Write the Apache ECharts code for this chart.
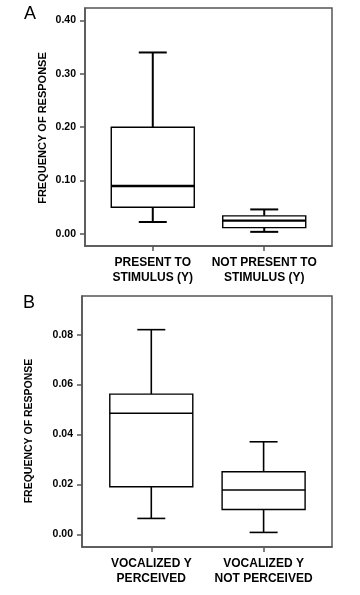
<!DOCTYPE html>
<html>
<head>
<meta charset="utf-8">
<script src="https://cdn.jsdelivr.net/npm/echarts@6/dist/echarts.min.js"></script>
<style>
html,body{margin:0;padding:0;background:#fff;}
#c{width:360px;height:595px;}
</style>
</head>
<body>
<div id="c"></div>
<script>
// ---- data ----
const categoriesA = ['PRESENT TO\nSTIMULUS (Y)', 'NOT PRESENT TO\nSTIMULUS (Y)'];
// [low whisker, Q1, median, Q3, high whisker]
const boxA1 = [0.0225, 0.05, 0.09, 0.20, 0.34];
const boxA2 = [0.004, 0.012, 0.025, 0.034, 0.046];
const ticksA = [0, 0.1, 0.2, 0.3, 0.4];

const categoriesB = ['VOCALIZED Y\nPERCEIVED', 'VOCALIZED Y\nNOT PERCEIVED'];
const boxB1 = [0.0064, 0.0191, 0.0485, 0.0562, 0.082];
const boxB2 = [0.0008, 0.0100, 0.0178, 0.0251, 0.0371];
const ticksB = [0, 0.02, 0.04, 0.06, 0.08];

const yNameA = 'FREQUENCY OF RESPONSE';
const yNameB = 'FREQUENCY OF RESPONSE';
const panelA = 'A';
const panelB = 'B';

// ---- chart ----
const FONT = "'Liberation Sans', Arial, sans-serif";
const chart = echarts.init(document.getElementById('c'), null, {renderer: 'canvas'});

function makeRender(boxW, capW, edgeW, whiskW, medW) {
  return function (params, api) {
    const x = api.value(0);
    const lo = api.coord([x, api.value(1)]);
    const q1 = api.coord([x, api.value(2)]);
    const md = api.coord([x, api.value(3)]);
    const q3 = api.coord([x, api.value(4)]);
    const hi = api.coord([x, api.value(5)]);
    const cx = lo[0];
    const s = {stroke: '#000', fill: null};
    return {
      type: 'group',
      children: [
        {type: 'line', shape: {x1: cx, y1: hi[1], x2: cx, y2: q3[1]}, style: Object.assign({}, s, {lineWidth: whiskW})},
        {type: 'line', shape: {x1: cx, y1: q1[1], x2: cx, y2: lo[1]}, style: Object.assign({}, s, {lineWidth: whiskW})},
        {type: 'line', shape: {x1: cx - capW, y1: hi[1], x2: cx + capW, y2: hi[1]}, style: Object.assign({}, s, {lineWidth: whiskW})},
        {type: 'line', shape: {x1: cx - capW, y1: lo[1], x2: cx + capW, y2: lo[1]}, style: Object.assign({}, s, {lineWidth: whiskW})},
        {type: 'rect', shape: {x: cx - boxW, y: q3[1], width: boxW * 2, height: q1[1] - q3[1]}, style: {stroke: '#000', fill: '#fff', lineWidth: edgeW}},
        {type: 'line', shape: {x1: cx - boxW, y1: md[1], x2: cx + boxW, y2: md[1]}, style: Object.assign({}, s, {lineWidth: medW})}
      ]
    };
  };
}

function rows(a, b) {
  return [[1].concat(a), [2].concat(b)];
}

const axisGray = '#555';

function xAxisFor(gridIndex, min, max, cats) {
  return {
    type: 'value', gridIndex: gridIndex, min: min, max: max,
    splitLine: {show: false},
    axisLine: {show: true, onZero: false, lineStyle: {color: axisGray, width: 1.5}},
    axisTick: {show: true, customValues: [1, 2], length: 5, lineStyle: {color: axisGray, width: 1.5}},
    axisLabel: {
      show: true, customValues: [1, 2], margin: 9,
      formatter: function (v) { return cats[Math.round(v) - 1] || ''; },
      color: '#000', fontFamily: FONT, fontWeight: 'bold', fontSize: 12, lineHeight: 15
    }
  };
}

function yAxisFor(gridIndex, min, max, ticks) {
  return {
    type: 'value', gridIndex: gridIndex, min: min, max: max,
    splitLine: {show: false},
    axisLine: {show: true, onZero: false, lineStyle: {color: axisGray, width: 1.5}},
    axisTick: {show: true, customValues: ticks, length: 5, lineStyle: {color: axisGray, width: 1.5}},
    axisLabel: {
      show: true, customValues: ticks, margin: 9,
      formatter: function (v) { return Number(v).toFixed(2); },
      color: '#000', fontFamily: FONT, fontWeight: 'bold', fontSize: 10.5
    }
  };
}

chart.setOption({
  animation: false,
  backgroundColor: '#fff',
  grid: [
    {left: 85, top: 8, width: 247, height: 238, show: true, borderColor: axisGray, borderWidth: 1.5, backgroundColor: 'transparent'},
    {left: 82, top: 296, width: 250, height: 251, show: true, borderColor: axisGray, borderWidth: 1.5, backgroundColor: 'transparent'}
  ],
  xAxis: [
    xAxisFor(0, 0.392, 2.608, categoriesA),
    xAxisFor(1, 0.383, 2.609, categoriesB)
  ],
  yAxis: [
    yAxisFor(0, -0.0225, 0.4233, ticksA),
    yAxisFor(1, -0.00504, 0.09548, ticksB)
  ],
  graphic: [
    {type: 'text', left: 24, top: 5, style: {text: panelA, font: '18px ' + FONT, fill: '#000'}},
    {type: 'text', left: 23, top: 294, style: {text: panelB, font: '18px ' + FONT, fill: '#000'}},
    {type: 'text', x: 42.5, y: 128, rotation: Math.PI / 2,
      style: {text: yNameA, font: 'bold 11px ' + FONT, fill: '#000', align: 'center', verticalAlign: 'middle', textAlign: 'center', textVerticalAlign: 'middle'}},
    {type: 'text', x: 29.5, y: 431, rotation: Math.PI / 2,
      style: {text: yNameB, font: 'bold 10.5px ' + FONT, fill: '#000', align: 'center', verticalAlign: 'middle', textAlign: 'center', textVerticalAlign: 'middle'}}
  ],
  series: [
    {type: 'custom', xAxisIndex: 0, yAxisIndex: 0, renderItem: makeRender(41.5, 14, 1.4, 2, 2.4),
      data: rows(boxA1, boxA2), encode: {x: 0, y: [1, 2, 3, 4, 5]}, z: 5},
    {type: 'custom', xAxisIndex: 1, yAxisIndex: 1, renderItem: makeRender(41.5, 14, 1.4, 1.6, 1.6),
      data: rows(boxB1, boxB2), encode: {x: 0, y: [1, 2, 3, 4, 5]}, z: 5}
  ]
});
</script>
</body>
</html>
